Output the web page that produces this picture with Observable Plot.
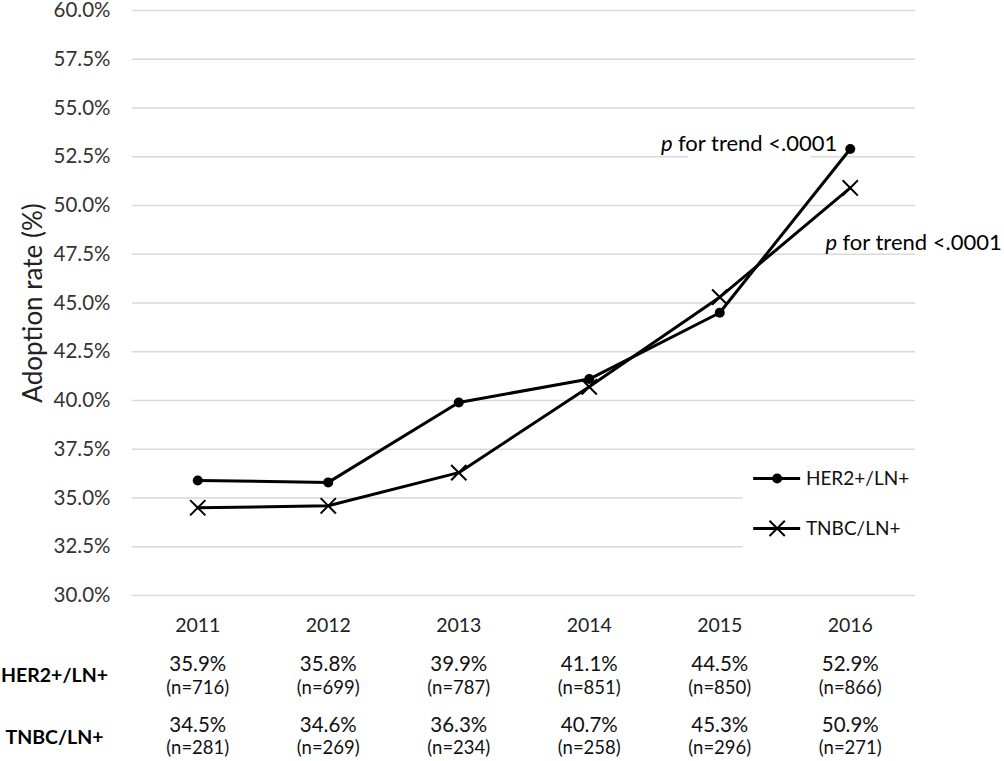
<!DOCTYPE html>
<html><head><meta charset="utf-8">
<script src="https://cdn.jsdelivr.net/npm/d3@7"></script>
<script src="https://cdn.jsdelivr.net/npm/@observablehq/plot@0.6"></script>
<style>body{margin:0;background:#fff} svg{display:block}</style>
</head><body><div id="chart"></div>
<script>
const years = [2011, 2012, 2013, 2014, 2015, 2016];
const her2Rates = [35.9, 35.8, 39.9, 41.1, 44.5, 52.9];
const tnbcRates = [34.5, 34.6, 36.3, 40.7, 45.3, 50.9];
const her2N = [716, 699, 787, 851, 850, 866];
const tnbcN = [281, 269, 234, 258, 296, 271];
const yTicks = d3.range(30, 60.001, 2.5);
const seriesNames = ["HER2+/LN+", "TNBC/LN+"];
const yTitle = "Adoption rate (%)";
const pItalic = "p";
const pRest = "for trend <.0001";

const her2 = years.map((y, i) => ({year: y, rate: her2Rates[i], n: her2N[i]}));
const tnbc = years.map((y, i) => ({year: y, rate: tnbcRates[i], n: tnbcN[i]}));
const font = "Lato, 'Open Sans', sans-serif";
const pct = d => d.toFixed(1) + "%";
const below = {frameAnchor: "bottom", lineAnchor: "middle"};

const plot = Plot.plot({
  width: 1004, height: 761,
  marginTop: 10, marginBottom: 166, marginLeft: 132, marginRight: 89,
  style: {fontFamily: font, fontSize: "20px", color: "#333", background: "#fff", overflow: "visible"},
  x: {domain: [2010.5, 2016.5], axis: null},
  y: {domain: [30, 60], axis: null},
  marks: [
    Plot.ruleY(yTicks, {stroke: "#d9d9d9", strokeWidth: 1.5}),
    Plot.rect([0], {x1: 2014.76, x2: 2015.70, y1: 52.2, y2: 52.8, fill: "white"}),
    Plot.rect([0], {x1: 2015.18, x2: 2016.6, y1: 31.2, y2: 37.2, fill: "white"}),
    Plot.axisY(yTicks, {tickSize: 0, tickPadding: 22, tickFormat: pct, fontSize: 20.5, fill: "#333", label: null}),
    Plot.text([yTitle], {frameAnchor: "left", textAnchor: "middle", dx: -99, rotate: -90, fontSize: 26, fill: "#222"}),
    // year labels
    Plot.text(years, {x: d => d, text: d => String(d), ...below, dy: 30, fontSize: 19.5, fill: "#222"}),
    // table
    Plot.text([seriesNames[0]], {frameAnchor: "bottom-left", lineAnchor: "middle", textAnchor: "middle", dx: -78, dy: 80, fontWeight: "bold", fontSize: 19.5, fill: "#000"}),
    Plot.text([seriesNames[1]], {frameAnchor: "bottom-left", lineAnchor: "middle", textAnchor: "middle", dx: -78, dy: 142, fontWeight: "bold", fontSize: 19.5, fill: "#000"}),
    Plot.text(her2, {x: "year", text: d => pct(d.rate), ...below, dy: 69, fontSize: 20.5, fill: "#111"}),
    Plot.text(her2, {x: "year", text: d => `(n=${d.n})`, ...below, dy: 93, fontSize: 18.5, fill: "#111"}),
    Plot.text(tnbc, {x: "year", text: d => pct(d.rate), ...below, dy: 130, fontSize: 20.5, fill: "#111"}),
    Plot.text(tnbc, {x: "year", text: d => `(n=${d.n})`, ...below, dy: 153, fontSize: 18.5, fill: "#111"}),
    // series
    Plot.line(her2, {x: "year", y: "rate", stroke: "#000", strokeWidth: 3}),
    Plot.line(tnbc, {x: "year", y: "rate", stroke: "#000", strokeWidth: 3}),
    Plot.dot(her2, {x: "year", y: "rate", r: 5, fill: "#000"}),
    Plot.dot(tnbc, {x: "year", y: "rate", symbol: "times", r: 7, stroke: "#000", strokeWidth: 2}),
    // p annotations
    Plot.text([pItalic], {x: [2014.55], y: [53.18], textAnchor: "start", fontStyle: "italic", fontSize: 22, fill: "#000"}),
    Plot.text([pRest], {x: [2014.55], y: [53.18], dx: 17, textAnchor: "start", fontSize: 22, fill: "#000"}),
    Plot.text([pItalic], {x: [2015.81], y: [48.10], textAnchor: "start", fontStyle: "italic", fontSize: 22, fill: "#000"}),
    Plot.text([pRest], {x: [2015.81], y: [48.10], dx: 17, textAnchor: "start", fontSize: 22, fill: "#000"}),
    // legend
    Plot.ruleY([36.0], {x1: 2015.26, x2: 2015.62, stroke: "#000", strokeWidth: 3}),
    Plot.dot([0], {x: [2015.44], y: [36.0], r: 5, fill: "#000"}),
    Plot.text([seriesNames[0]], {x: [2015.66], y: [36.0], textAnchor: "start", fontSize: 19, fill: "#111"}),
    Plot.ruleY([33.44], {x1: 2015.26, x2: 2015.62, stroke: "#000", strokeWidth: 3}),
    Plot.dot([0], {x: [2015.44], y: [33.44], symbol: "times", r: 7, stroke: "#000", strokeWidth: 2}),
    Plot.text([seriesNames[1]], {x: [2015.66], y: [33.44], textAnchor: "start", fontSize: 19, fill: "#111"})
  ]
});
document.getElementById("chart").appendChild(plot);
</script>
</body></html>
